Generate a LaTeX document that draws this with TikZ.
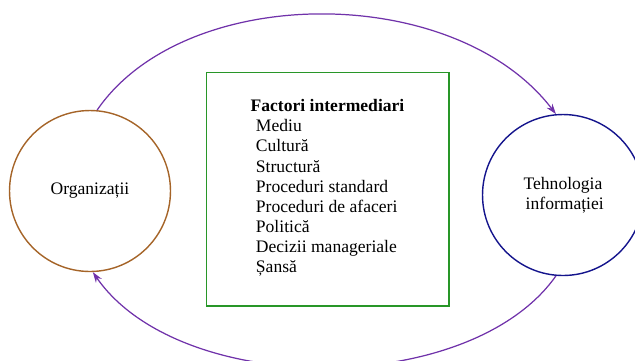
\documentclass[tikz,border=0pt]{standalone}
\usepackage{fontspec}
\setmainfont{Liberation Serif}
\usetikzlibrary{arrows.meta,positioning}
\definecolor{flowpurple}{RGB}{112,50,170}
\definecolor{orgbrown}{RGB}{165,100,40}
\definecolor{itnavy}{RGB}{20,20,140}
\definecolor{boxgreen}{RGB}{40,150,40}
\begin{document}
\begin{tikzpicture}[
    x=0.02cm, y=-0.02cm,
    font=\fontsize{10}{11.4}\selectfont,
    entity/.style={circle, draw, line width=0.8pt, minimum size=3.22cm, inner sep=0pt, align=center},
    factors/.style={rectangle, draw=boxgreen, line width=0.6pt, minimum width=4.86cm, minimum height=4.68cm, align=left},
    flow/.style={draw=flowpurple, line width=0.7pt, -{Stealth[length=6pt,width=4pt]}}
]
    \useasboundingbox (0,0) rectangle (635,360);
    \clip (0,0) rectangle (635,360);

    % Entities
    \node [entity, draw=orgbrown] (org) at (90,191) {Organizații};
    \node [entity, draw=itnavy] (it) at (563,195) {Tehnologia\\ \hspace{2pt}informației};

    % Intermediate factors
    \node [factors] (factori) at (327.5,189) {\textbf{Factori intermediari}\\
        \hspace{3pt}Mediu\\
        \hspace{3pt}Cultură\\
        \hspace{3pt}Structură\\
        \hspace{3pt}Proceduri standard\\
        \hspace{3pt}Proceduri de afaceri\\
        \hspace{3pt}Politică\\
        \hspace{3pt}Decizii manageriale\\
        \hspace{3pt}Șansă\rule[-3.5pt]{0pt}{0pt}};

    % Feedback loop
    \draw [flow] (org.85) .. controls (185,-18) and (455,-18) .. (it.95);
    \draw [flow] (it.-95) .. controls (470,398) and (180,398) .. (org.-88);
\end{tikzpicture}
\end{document}
